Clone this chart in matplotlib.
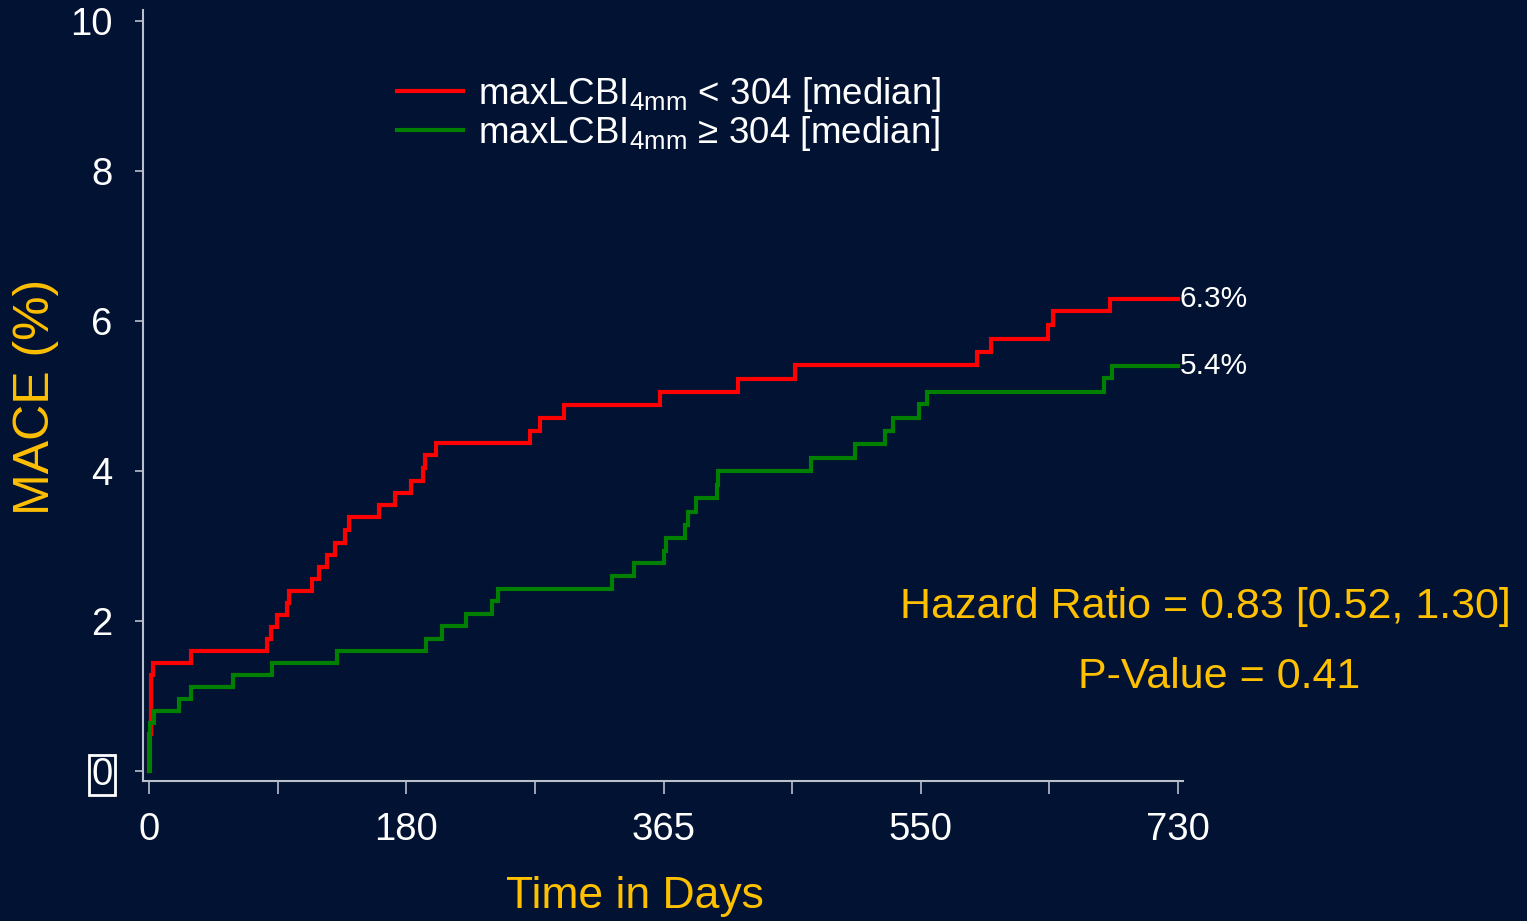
import matplotlib
matplotlib.use("Agg")
import matplotlib.pyplot as plt
from matplotlib.lines import Line2D

# Kaplan-Meier style cumulative MACE (%) by maxLCBI4mm group
red_days = [0, 0.2, 1.2, 2.6, 29.8, 83.7, 86.5, 90.6, 97.7, 99.3, 115.4, 120.6,
            126.1, 132.0, 139.0, 141.9, 163.2, 174.5, 185.9, 194.4, 195.8, 203.6,
            270.3, 277.4, 294.4, 362.5, 417.8, 458.3, 587.4, 597.3, 637.8, 641.3,
            681.7, 730]
red_vals = [0, 0.50, 1.28, 1.44, 1.60, 1.76, 1.92, 2.08, 2.24, 2.40, 2.56, 2.72,
            2.88, 3.04, 3.22, 3.39, 3.55, 3.71, 3.87, 4.04, 4.21, 4.37,
            4.54, 4.71, 4.88, 5.05, 5.23, 5.41, 5.59, 5.76, 5.95, 6.13,
            6.30, 6.30]

green_days = [0, 0.8, 3.5, 21.3, 29.6, 59.6, 86.9, 133.4, 196.5, 207.6, 224.9,
              243.1, 247.4, 328.5, 344.1, 365.4, 366.8, 380.3, 382.4, 388.1,
              403.0, 403.7, 469.6, 500.9, 522.1, 527.8, 546.2, 551.9, 677.5,
              683.2, 730]
green_vals = [0, 0.64, 0.80, 0.96, 1.12, 1.28, 1.44, 1.60, 1.76, 1.94, 2.10,
              2.27, 2.43, 2.60, 2.77, 2.93, 3.11, 3.28, 3.46, 3.64,
              3.82, 4.00, 4.18, 4.36, 4.53, 4.71, 4.89, 5.06, 5.24,
              5.40, 5.40]

x_major = [0, 182.5, 365, 547.5, 730]
x_major_labels = ["0", "180", "365", "550", "730"]
x_minor = [91.25, 273.75, 456.25, 638.75]
y_ticks = [0, 2, 4, 6, 8, 10]

red_label = r"maxLCBI$_{\mathregular{4mm}}$ < 304 [median]"
green_label = r"maxLCBI$_{\mathregular{4mm}}$ ≥ 304 [median]"
hr_text = "Hazard Ratio = 0.83 [0.52, 1.30]"
p_text = "P-Value = 0.41"

BG = "#011232"
AXC = "#b9c0cc"
ORANGE = "#ffc000"
RED = "#ff0000"
GREEN = "#007f00"

plt.rcParams["font.family"] = ["Liberation Sans", "DejaVu Sans"]
plt.rcParams["mathtext.fontset"] = "custom"
plt.rcParams["mathtext.rm"] = "Liberation Sans"

W, H = 1527, 921
fig = plt.figure(figsize=(W / 100, H / 100), dpi=100, facecolor=BG)
ax = fig.add_axes([143 / W, 1 - 781 / H, (1183 - 143) / W, (781 - 10) / H])
ax.set_facecolor(BG)

ax.step(red_days, red_vals, where="post", color=RED, lw=3.0, solid_joinstyle="miter")
ax.step(green_days, green_vals, where="post", color=GREEN, lw=3.0, solid_joinstyle="miter")

ax.set_xlim(-4.26, 733.5)
ax.set_ylim(-0.133, 10.15)

for s in ["top", "right"]:
    ax.spines[s].set_visible(False)
for s in ["left", "bottom"]:
    ax.spines[s].set_color(AXC)
    ax.spines[s].set_linewidth(1.5)

ax.set_xticks(x_major)
ax.set_xticklabels(x_major_labels)
ax.set_xticks(x_minor, minor=True)
ax.set_yticks(y_ticks)
ax.set_yticklabels([str(v) for v in y_ticks])
ax.tick_params(axis="x", which="both", direction="out", length=9, width=1.2,
               color=AXC, labelcolor="white", labelsize=27.5, pad=13)
ax.tick_params(axis="y", direction="out", length=6, width=1.2,
               color=AXC, labelcolor="white", labelsize=27.5, pad=16)

zero_lbl = ax.get_yticklabels()[0]
zero_lbl.set_bbox(dict(boxstyle="square,pad=0.06", facecolor="none",
                       edgecolor="white", linewidth=2))

# end-of-follow-up percentages
ax.text(731, red_vals[-1], "6.3%", color="white", fontsize=21.5,
        ha="left", va="center")
ax.text(731, green_vals[-1], "5.4%", color="white", fontsize=21.5,
        ha="left", va="center")

handles = [Line2D([], [], color=RED, lw=3.0), Line2D([], [], color=GREEN, lw=3.0)]
leg = fig.legend(handles, [red_label, green_label], loc="upper left",
                 bbox_to_anchor=(382 / W, 1 - 60 / H), frameon=False,
                 fontsize=26.5, labelcolor="white", handlelength=1.8,
                 handletextpad=0.4, labelspacing=0.0, borderaxespad=0)

fig.text(1205 / W, 1 - 607 / H, hr_text, color=ORANGE, fontsize=31,
         ha="center", va="center")
fig.text(1219 / W, 1 - 677 / H, p_text, color=ORANGE, fontsize=31,
         ha="center", va="center")

fig.text(635 / W, 1 - 896 / H, "Time in Days", color=ORANGE, fontsize=32,
         ha="center", va="center")
fig.text(36 / W, 1 - 397 / H, "MACE (%)", color=ORANGE, fontsize=36,
         ha="center", va="center", rotation=90)

fig.savefig("out.png", dpi=100, facecolor=BG)
